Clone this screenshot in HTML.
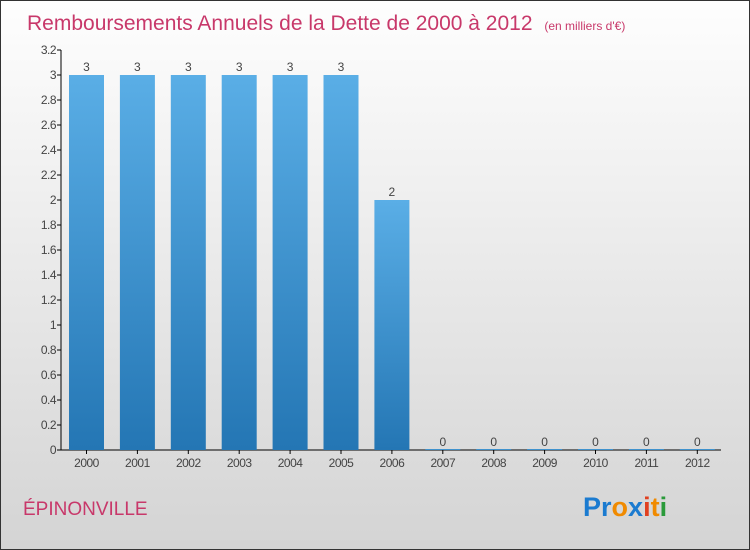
<!DOCTYPE html>
<html><head><meta charset="utf-8"><style>
body{margin:0;}
#c{position:relative;width:750px;height:550px;box-sizing:border-box;border:1px solid #333;background:linear-gradient(#fefefe,#d4d4d4);font-family:"Liberation Sans",sans-serif;overflow:hidden}
</style></head><body>
<div id="c">
<svg id="s" width="748" height="548" style="position:absolute;left:0;top:0">
<defs><linearGradient id="bg" x1="0" y1="0" x2="0" y2="1"><stop offset="0" stop-color="#5aaee6"/><stop offset="1" stop-color="#2476b4"/></linearGradient></defs>
<text x="26" y="29" font-size="21" fill="#c8386a">Remboursements Annuels de la Dette de 2000 à 2012 <tspan font-size="12" dx="6">(en milliers d'€)</tspan></text>
<text x="22" y="514" font-size="19" fill="#c8386a">ÉPINONVILLE</text>
<text x="582" y="515" font-size="27" font-weight="bold"><tspan fill="#1b7bd0">Pr</tspan><tspan fill="#f08a00">o</tspan><tspan fill="#1b7bd0">x</tspan><tspan fill="#e04020">i</tspan><tspan fill="#f08a00">t</tspan><tspan fill="#2a9a3a">i</tspan></text>
<g id="g"></g>
</svg>
</div>
<script>
const years=["2000","2001","2002","2003","2004","2005","2006","2007","2008","2009","2010","2011","2012"];
const values=[3,3,3,3,3,3,2,0,0,0,0,0,0];
const yTicks=[0,0.2,0.4,0.6,0.8,1,1.2,1.4,1.6,1.8,2,2.2,2.4,2.6,2.8,3,3.2];
const NS="http://www.w3.org/2000/svg";
const g=document.getElementById('g');
const y=v=>449-v*125;
const x=i=>85.5+i*50.9;
function mk(t,a,txt){const e=document.createElementNS(NS,t);for(const k in a)e.setAttribute(k,a[k]);if(txt!==undefined)e.textContent=txt;g.appendChild(e);return e;}
let ax=mk('line',{x1:60,y1:49,x2:60,y2:449,stroke:'#000'});


let xa=mk('line',{x1:60,y1:449,x2:720,y2:449,stroke:'#000'});


yTicks.forEach(t=>{
 const tk=mk('line',{x1:56,y1:y(t),x2:60,y2:y(t),stroke:'#000'});
 
 
 const l=mk('text',{x:55,y:y(t)+4,'font-size':12,'text-anchor':'end',fill:'#444','letter-spacing':'-0.5'},String(t));
 
 
});
years.forEach((yr,i)=>{
 const v=values[i];
 const b=mk('rect',{x:x(i)-17.5,y:y(v)-(v?0:1),width:35,height:Math.max(1,449-y(v)),fill:'url(#bg)'});
 
 
 const vl=mk('text',{x:x(i),y:y(v)-4,'font-size':12,'text-anchor':'middle',fill:'#444'},String(v));
 
 
 const tk=mk('line',{x1:x(i),y1:449,x2:x(i),y2:453,stroke:'#000'});
 
 
 const xl=mk('text',{x:x(i),y:466,'font-size':12,'text-anchor':'middle',fill:'#444','letter-spacing':'-0.5'},yr);
 
 
});
</script>
</body></html>
